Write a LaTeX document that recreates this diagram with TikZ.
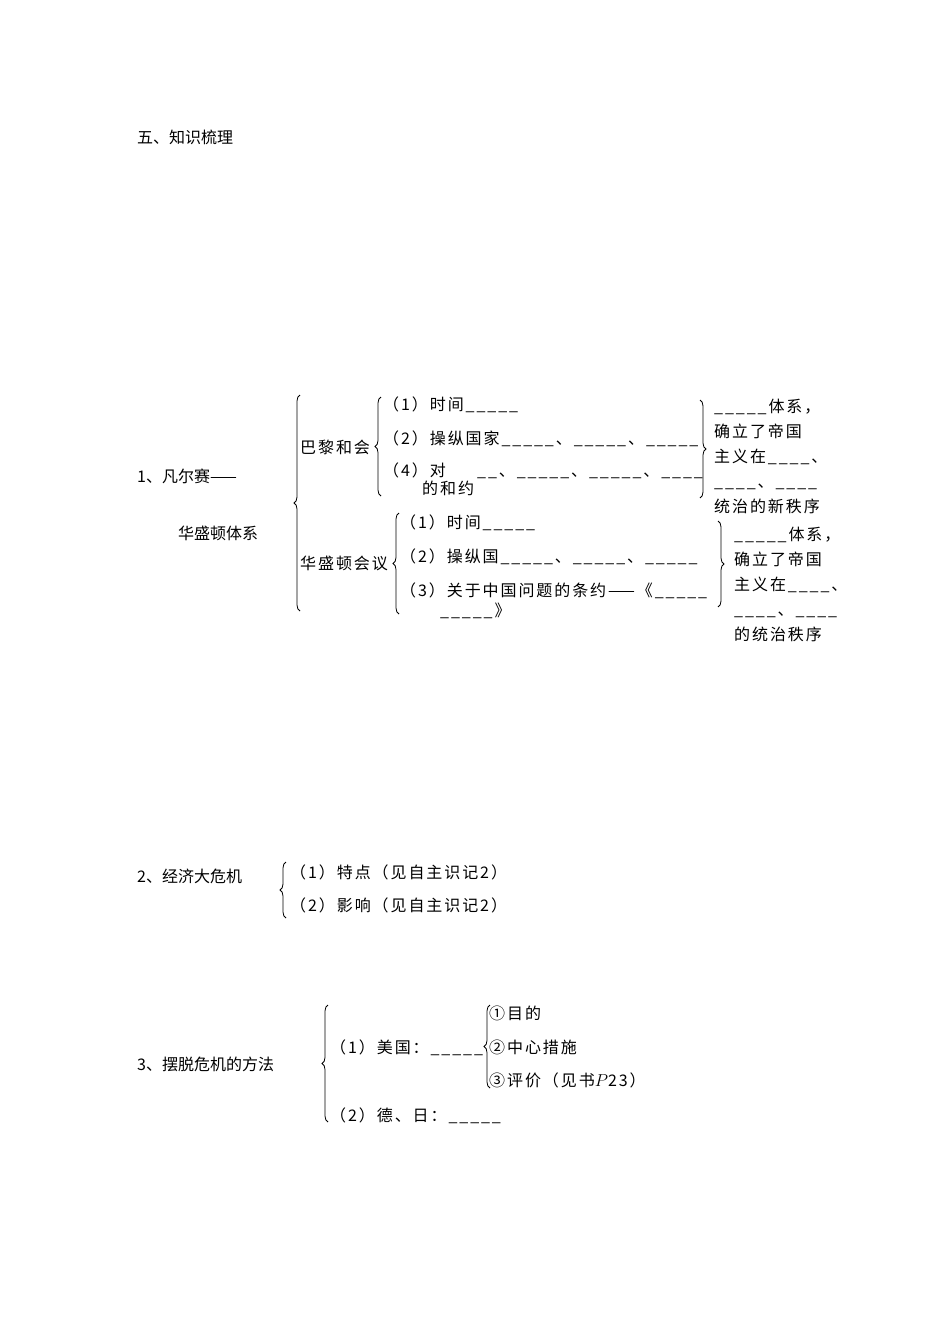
\documentclass[tikz,border=0pt]{standalone}
\usepackage{fontspec}
\setmainfont{Noto Sans CJK SC}
\newfontfamily\itemfont[LetterSpace=12]{Noto Sans CJK SC}
\usetikzlibrary{decorations.pathreplacing}

\tikzset{
  outline/.style={anchor=base west, inner sep=0pt, font=\fontsize{16}{19}\selectfont},
  item/.style={anchor=base west, inner sep=0pt, font=\itemfont\fontsize{16}{19}\selectfont},
  block/.style={anchor=west, inner sep=0pt, align=left, font=\itemfont\fontsize{16}{25}\selectfont},
  lbrace/.style={decorate, decoration={brace, amplitude=6pt}, line width=0.8pt}
}

\begin{document}
\begin{tikzpicture}[x=1pt, y=-1pt]
	\useasboundingbox (0,0) rectangle (950,1344);
	\node[outline] (title) at (137,143) {五、知识梳理};
	% 1
	\node[outline] (sec1) at (137,482) {1、凡尔赛——};
	\node[outline] (sec1b) at (178,539) {华盛顿体系};
	\draw[lbrace] (300,611) -- (300,395);
	\node[item] (paris) at (300,453) {巴黎和会};
	\draw[lbrace] (381,496) -- (381,397);
	\node[item] (paris1) at (383,410) {（1）时间\_\_\_\_\_};
	\node[item] (paris2) at (383,444) {（2）操纵国家\_\_\_\_\_、\_\_\_\_\_、\_\_\_\_\_};
	\node[item] (paris4) at (383,476) {（4）对};
	\node[item] (paris4b) at (477,476) {\_\_、\_\_\_\_\_、\_\_\_\_\_、\_\_\_\_};
	\node[item] (paris4c) at (422,494) {的和约};
	\draw[lbrace] (700,400) -- (700,498);
	\node[block] (parisres) at (714,456) {\_\_\_\_\_体系，\\确立了帝国\\主义在\_\_\_\_、\\\_\_\_\_、\_\_\_\_\\统治的新秩序};
	\node[item] (wash) at (300,569) {华盛顿会议};
	\draw[lbrace] (399,614) -- (399,513);
	\node[item] (wash1) at (400,528) {（1）时间\_\_\_\_\_};
	\node[item] (wash2) at (400,562) {（2）操纵国\_\_\_\_\_、\_\_\_\_\_、\_\_\_\_\_};
	\node[item] (wash3) at (400,596) {（3）关于中国问题的条约——《\_\_\_\_\_};
	\node[item] (wash3b) at (440,616) {\_\_\_\_\_》};
	\draw[lbrace] (718,521) -- (718,607);
	\node[block] (washres) at (734,584) {\_\_\_\_\_体系，\\确立了帝国\\主义在\_\_\_\_、\\\_\_\_\_、\_\_\_\_\\的统治秩序};
	% 2
	\node[outline] (sec2) at (137,882) {2、经济大危机};
	\draw[lbrace] (286,918) -- (286,862);
	\node[item] (crisis1) at (290,878) {（1）特点（见自主识记2）};
	\node[item] (crisis2) at (290,911) {（2）影响（见自主识记2）};
	% 3
	\node[outline] (sec3) at (137,1070) {3、摆脱危机的方法};
	\draw[lbrace] (328,1122) -- (328,1005);
	\node[item] (usa) at (330,1053) {（1）美国：\_\_\_\_\_};
	\node[item] (germ) at (330,1121) {（2）德、日：\_\_\_\_\_};
	\draw[lbrace] (490,1088) -- (490,1005);
	\node[item] (usa1) at (489,1019) {①目的};
	\node[item] (usa2) at (489,1053) {②中心措施};
	\node[item] (usa3) at (489,1086) {③评价（见书$P$23）};
\end{tikzpicture}
\end{document}
